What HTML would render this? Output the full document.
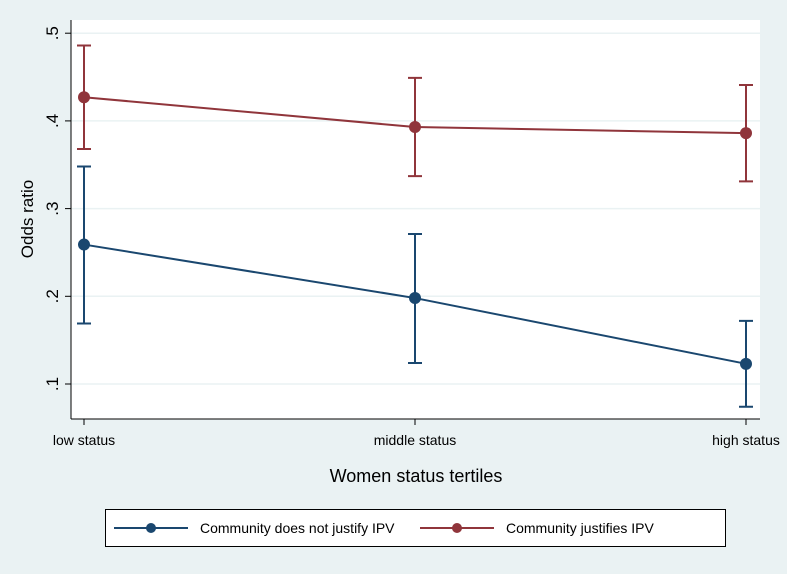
<!DOCTYPE html>
<html><head><meta charset="utf-8"><style>
body{margin:0;background:#eaf2f3;}
svg{display:block;font-family:"Liberation Sans",sans-serif;}
</style></head><body>
<svg id="c" width="787" height="574">
<rect x="0" y="0" width="787" height="574" fill="#eaf2f3"/>
<rect x="71" y="20" width="689" height="399" fill="#fff"/>
<g id="grid"></g>
<line x1="71" y1="20" x2="71" y2="419" stroke="#000" stroke-width="1"/>
<line x1="71" y1="419" x2="760" y2="419" stroke="#000" stroke-width="1"/>
<g id="marks"></g>
<text x="0" y="0" transform="translate(33,219) rotate(-90)" text-anchor="middle" font-size="17">Odds ratio</text>
<text x="416" y="482" text-anchor="middle" font-size="18">Women status tertiles</text>
<g>
<rect x="105.5" y="509.5" width="620" height="37" fill="#fff" stroke="#000"/>
<g>
<line x1="114" y1="528" x2="188" y2="528" stroke="#1a476f" stroke-width="2"/>
<circle cx="151" cy="528" r="5" fill="#1a476f"/>
<text x="200" y="533" font-size="14">Community does not justify IPV</text>
</g>
<g>
<line x1="420" y1="528" x2="494" y2="528" stroke="#90353b" stroke-width="2"/>
<circle cx="457" cy="528" r="5" fill="#90353b"/>
<text x="506" y="533" font-size="14">Community justifies IPV</text>
</g>
</g>
</svg>
<script>
const categories=["low status","middle status","high status"];
const yTicks=[0.1,0.2,0.3,0.4,0.5];
const yTickLabels=[".1",".2",".3",".4",".5"];
const blueVals=[0.259,0.198,0.123];
const blueLo=[0.169,0.124,0.074];
const blueHi=[0.348,0.271,0.172];
const redVals=[0.427,0.393,0.386];
const redLo=[0.368,0.337,0.331];
const redHi=[0.486,0.449,0.441];
const NS="http://www.w3.org/2000/svg";
function xS(i){return 84+i*331;}
function yS(v){return 384-(v-0.1)*877;}
function mk(tag,attrs,parent,txt){const e=document.createElementNS(NS,tag);for(const k in attrs)e.setAttribute(k,attrs[k]);if(txt!==undefined)e.textContent=txt;parent.appendChild(e);return e;}
const grid=document.getElementById('grid'),marks=document.getElementById('marks'),svg=document.getElementById('c');
yTicks.forEach((t,i)=>{
 const y=yS(t);
 const g=mk('line',{x1:71,x2:760,y1:y,y2:y,stroke:'#eaf2f3','stroke-width':1.5},grid);
 
 
 const tk=mk('line',{x1:65,x2:71,y1:y,y2:y,stroke:'#000'},svg);
 
 
 const tl=mk('text',{transform:`translate(58,${y}) rotate(-90)`,'text-anchor':'middle','font-size':17},svg,yTickLabels[i]);
 
 
});
categories.forEach((c,i)=>{
 const x=xS(i);
 const tk=mk('line',{x1:x,x2:x,y1:419,y2:425,stroke:'#000'},svg);
 
 
 const tl=mk('text',{x:x,y:445,'text-anchor':'middle','font-size':14},svg,c);
 
 
});
function series(vals,lo,hi,col,name){
 const g=mk('g',{},marks);
 
 
 vals.forEach((v,i)=>{
  const x=xS(i);
  const e=mk('path',{d:`M${x},${yS(lo[i])}V${yS(hi[i])}M${x-7},${yS(lo[i])}H${x+7}M${x-7},${yS(hi[i])}H${x+7}`,stroke:col,'stroke-width':2,fill:'none'},g);
  
  
 });
 const pl=mk('polyline',{points:vals.map((v,i)=>xS(i)+','+yS(v)).join(' '),stroke:col,'stroke-width':2,fill:'none'},g);
 
 
 vals.forEach((v,i)=>{
  const p=mk('circle',{cx:xS(i),cy:yS(v),r:6,fill:col},g);
  
  
 });
}
series(redVals,redLo,redHi,'#90353b','series-justifies');
series(blueVals,blueLo,blueHi,'#1a476f','series-no-justify');
</script>
</body></html>
